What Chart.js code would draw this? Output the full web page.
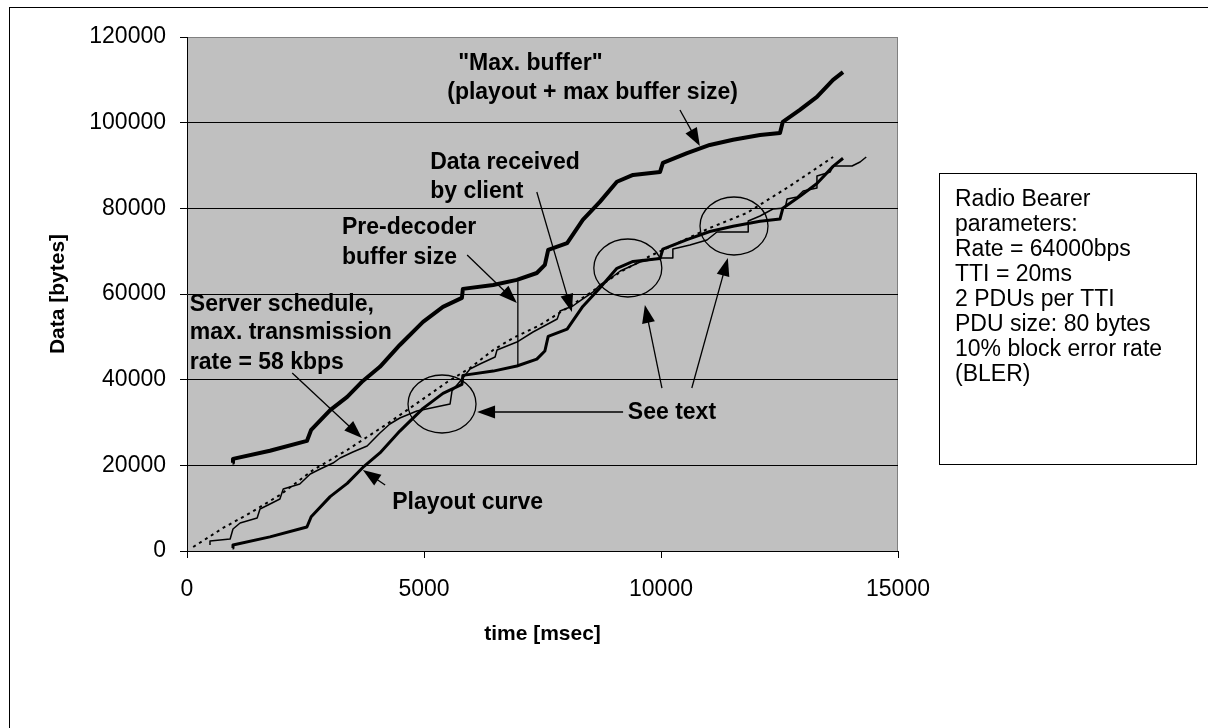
<!DOCTYPE html>
<html lang="en">
<head>
<meta charset="UTF-8">
<title>Playout and buffer curves</title>
<script src="https://cdn.jsdelivr.net/npm/chart.js"></script>
<style>
  html, body { margin: 0; padding: 0; background: #ffffff; }
  canvas { display: block; }
</style>
</head>
<body>
<canvas id="chart" width="1208" height="728"></canvas>
<script>
// values: time in msec, data in bytes
var maxBufTime = [960, 970, 1750, 2530, 2620, 3020, 3380, 3710, 4070, 4490, 4980, 5400, 5800, 5820, 6460, 6960, 7380, 7550, 7620, 8020, 8350, 8710, 9070, 9410, 9980, 10040, 10550, 11030, 11520, 12090, 12510, 12570, 12930, 13290, 13630, 13840];
var maxBufData = [20600, 21500, 23400, 25700, 28300, 32900, 36000, 39700, 43000, 48100, 53500, 57000, 59100, 61200, 62100, 63300, 64900, 66800, 70300, 71900, 77300, 81500, 86200, 87800, 88500, 90600, 92900, 94800, 96000, 97100, 97600, 100200, 103000, 106000, 110000, 111800];

var playTime = [960, 970, 1750, 2530, 2620, 3020, 3380, 3710, 4070, 4490, 4980, 5400, 5800, 5820, 6460, 6960, 7380, 7550, 7620, 8020, 8350, 8710, 9070, 9410, 9980, 10040, 10550, 11030, 11520, 12090, 12510, 12570, 12930, 13290, 13630, 13840];
var playData = [700, 1400, 3300, 5600, 8000, 12700, 15800, 19500, 22900, 28000, 33300, 36800, 38900, 41000, 42000, 43200, 44800, 46700, 50100, 51800, 57100, 61400, 66000, 67600, 68300, 70500, 72700, 74600, 75800, 77000, 77500, 80000, 82800, 85800, 89800, 91700];

var recvTime = [485, 485, 910, 970, 1120, 1480, 1540, 1710, 1960, 2030, 2380, 2600, 2810, 3080, 3230, 3500, 3800, 4070, 4280, 4490, 4850, 5550, 5590, 5820, 5970, 6180, 6500, 6540, 6960, 7300, 7810, 7870, 8140, 8290, 8570, 8710, 8920, 9140, 9560, 9980, 10250, 10250, 10610, 10970, 11180, 11840, 11840, 12090, 12360, 12620, 12660, 12870, 13000, 13290, 13290, 13570, 13630, 14030, 14200, 14330];
var recvData = [1400, 2330, 2800, 5140, 6540, 7700, 9810, 10740, 12140, 14470, 15640, 17980, 19140, 20540, 21710, 23110, 24510, 27550, 29650, 31050, 32680, 34320, 37350, 40390, 42490, 43660, 45290, 46930, 48790, 51130, 54160, 56030, 57200, 58370, 60470, 62100, 63500, 65370, 67470, 68400, 68400, 70500, 71440, 72610, 74470, 74470, 77040, 78210, 79840, 80080, 82180, 82650, 84050, 84750, 87550, 88480, 89880, 89880, 90820, 91980];

var serverTime = [130, 760, 1330, 1960, 2660, 3380, 4220, 4920, 5490, 5970, 6460, 6880, 7450, 8020, 8500, 9140, 9770, 10400, 11030, 11810, 12720, 13630];
var serverData = [930, 5370, 8870, 13070, 18910, 23580, 29650, 35020, 39450, 42720, 46930, 49730, 52760, 56730, 60230, 65140, 68870, 72140, 75410, 78910, 85210, 91980];

// vertical marker showing the pre-decoder buffer size
var bufMarkTime = [6980, 6980];
var bufMarkData = [43400, 63000];

var xTicks = [0, 5000, 10000, 15000];
var yTicks = [0, 20000, 40000, 60000, 80000, 100000, 120000];

// callouts, placed in chart values
var noteText = ['"Max. buffer"', '(playout + max buffer size)', 'Data received', 'by client', 'Pre-decoder', 'buffer size', 'Server schedule,', 'max. transmission', 'rate = 58 kbps', 'Playout curve', 'See text'];
var noteTime = [5720, 5490, 5130, 5130, 3270, 3270, 60, 60, 60, 4330, 9300];
var noteData = [113700, 106900, 90600, 83800, 75400, 68600, 57400, 50900, 43900, 11200, 32200];
var arrowFrom = [[10400, 102960], [7380, 83810], [5910, 69100], [2220, 41560], [4180, 15410], [9200, 32450], [10020, 38050], [10650, 38050]];
var arrowTo = [[10820, 94550], [8120, 55800], [6960, 57900], [3690, 26380], [3710, 18910], [6120, 32450], [9660, 57430], [11410, 68400]];
var ringAt = [[5380, 34320], [9300, 66070], [11540, 75870]];

var boxLines = ['Radio Bearer', 'parameters:', 'Rate = 64000bps', 'TTI = 20ms', '2 PDUs per TTI', 'PDU size: 80 bytes', '10% block error rate', '(BLER)'];

var FONT = '"Liberation Sans", Arial, sans-serif';

function pts(xs, ys) {
  return xs.map(function (x, i) { return { x: x, y: ys[i] }; });
}

function arrow(c, x1, y1, x2, y2) {
  var a = Math.atan2(y2 - y1, x2 - x1);
  var len = 18, half = 6.5;
  var cs = Math.cos(a), sn = Math.sin(a);
  c.beginPath();
  c.moveTo(x1, y1);
  c.lineTo(x2 - len * cs * 0.8, y2 - len * sn * 0.8);
  c.stroke();
  c.beginPath();
  c.moveTo(x2, y2);
  c.lineTo(x2 - len * cs + half * sn, y2 - len * sn - half * cs);
  c.lineTo(x2 - len * cs - half * sn, y2 - len * sn + half * cs);
  c.closePath();
  c.fill();
}

var decor = {
  id: 'decor',
  beforeDraw: function (chart) {
    var c = chart.ctx, a = chart.chartArea;
    c.save();
    c.fillStyle = '#ffffff';
    c.fillRect(0, 0, chart.width, chart.height);
    c.strokeStyle = '#000000';
    c.lineWidth = 1;
    c.strokeRect(9.5, 7.5, 1400, 1000);
    c.fillStyle = '#c0c0c0';
    c.fillRect(a.left, a.top, a.right - a.left, a.bottom - a.top);
    c.strokeStyle = '#808080';
    c.beginPath();
    c.moveTo(a.left, a.top + 0.5);
    c.lineTo(a.right - 0.5, a.top + 0.5);
    c.lineTo(a.right - 0.5, a.bottom);
    c.stroke();
    c.restore();
  },
  afterDatasetsDraw: function (chart) {
    var c = chart.ctx, xs = chart.scales.x, ys = chart.scales.y;
    c.save();
    c.strokeStyle = '#000000';
    c.fillStyle = '#000000';
    c.lineWidth = 1.3;
    ringAt.forEach(function (r) {
      c.beginPath();
      c.ellipse(xs.getPixelForValue(r[0]), ys.getPixelForValue(r[1]), 34, 29, 0, 0, Math.PI * 2);
      c.stroke();
    });
    arrowFrom.forEach(function (f, i) {
      var t = arrowTo[i];
      arrow(c, xs.getPixelForValue(f[0]), ys.getPixelForValue(f[1]),
        xs.getPixelForValue(t[0]), ys.getPixelForValue(t[1]));
    });
    c.font = 'bold 23px ' + FONT;
    c.textAlign = 'left';
    c.textBaseline = 'middle';
    noteText.forEach(function (s, i) {
      c.fillText(s, xs.getPixelForValue(noteTime[i]), ys.getPixelForValue(noteData[i]));
    });
    c.restore();
  },
  afterDraw: function (chart) {
    var c = chart.ctx;
    c.save();
    c.strokeStyle = '#000000';
    c.lineWidth = 1;
    c.strokeRect(939.5, 173.5, 257, 291);
    c.fillStyle = '#000000';
    c.font = '23px ' + FONT;
    c.textAlign = 'left';
    c.textBaseline = 'middle';
    boxLines.forEach(function (s, i) {
      c.fillText(s, 955, 200 + i * 25);
    });
    c.restore();
  }
};

new Chart(document.getElementById('chart'), {
  type: 'scatter',
  data: {
    datasets: [
      { label: 'Max. buffer', data: pts(maxBufTime, maxBufData), borderColor: '#000', borderWidth: 4 },
      { label: 'Playout curve', data: pts(playTime, playData), borderColor: '#000', borderWidth: 3 },
      { label: 'Data received by client', data: pts(recvTime, recvData), borderColor: '#000', borderWidth: 1.5 },
      { label: 'Server schedule', data: pts(serverTime, serverData), borderColor: '#000', borderWidth: 2, borderDash: [3, 4] },
      { label: 'Pre-decoder buffer size', data: pts(bufMarkTime, bufMarkData), borderColor: '#000', borderWidth: 1.3 }
    ]
  },
  options: {
    responsive: false,
    animation: false,
    showLine: true,
    elements: { point: { radius: 0, hoverRadius: 0 }, line: { tension: 0, borderJoinStyle: 'round', borderCapStyle: 'butt' } },
    layout: { padding: { left: 0, right: 310, top: 37, bottom: 0 } },
    plugins: { legend: { display: false }, tooltip: { enabled: false } },
    scales: {
      x: {
        type: 'linear', min: 0, max: 15000,
        afterBuildTicks: function (s) { s.ticks = xTicks.map(function (v) { return { value: v }; }); },
        afterFit: function (s) { s.height = 177; },
        ticks: { color: '#000', font: { family: FONT, size: 23 }, padding: 18, maxRotation: 0,
          callback: function (v) { return String(v); } },
        grid: { drawOnChartArea: false, drawTicks: true, tickLength: 7, tickColor: '#000' },
        border: { display: true, color: '#000', width: 1 },
        title: { display: true, text: 'time [msec]', color: '#000', font: { family: FONT, size: 21, weight: 'bold' }, padding: { top: 0, bottom: 81 } }
      },
      y: {
        min: 0, max: 120000,
        afterBuildTicks: function (s) { s.ticks = yTicks.map(function (v) { return { value: v }; }); },
        afterFit: function (s) { s.width = 187; },
        ticks: { color: '#000', font: { family: FONT, size: 23 }, padding: 14,
          callback: function (v) { return String(v); } },
        grid: {
          color: function (ctx) { return ctx.tick && ctx.tick.value === 120000 ? '#808080' : '#000'; },
          lineWidth: 1, drawTicks: true, tickLength: 7, tickColor: '#000'
        },
        border: { display: true, color: '#000', width: 1 },
        title: { display: true, text: 'Data [bytes]', color: '#000', font: { family: FONT, size: 21, weight: 'bold' }, padding: { top: 46, bottom: 0 } }
      }
    }
  },
  plugins: [decor]
});
</script>
</body>
</html>
